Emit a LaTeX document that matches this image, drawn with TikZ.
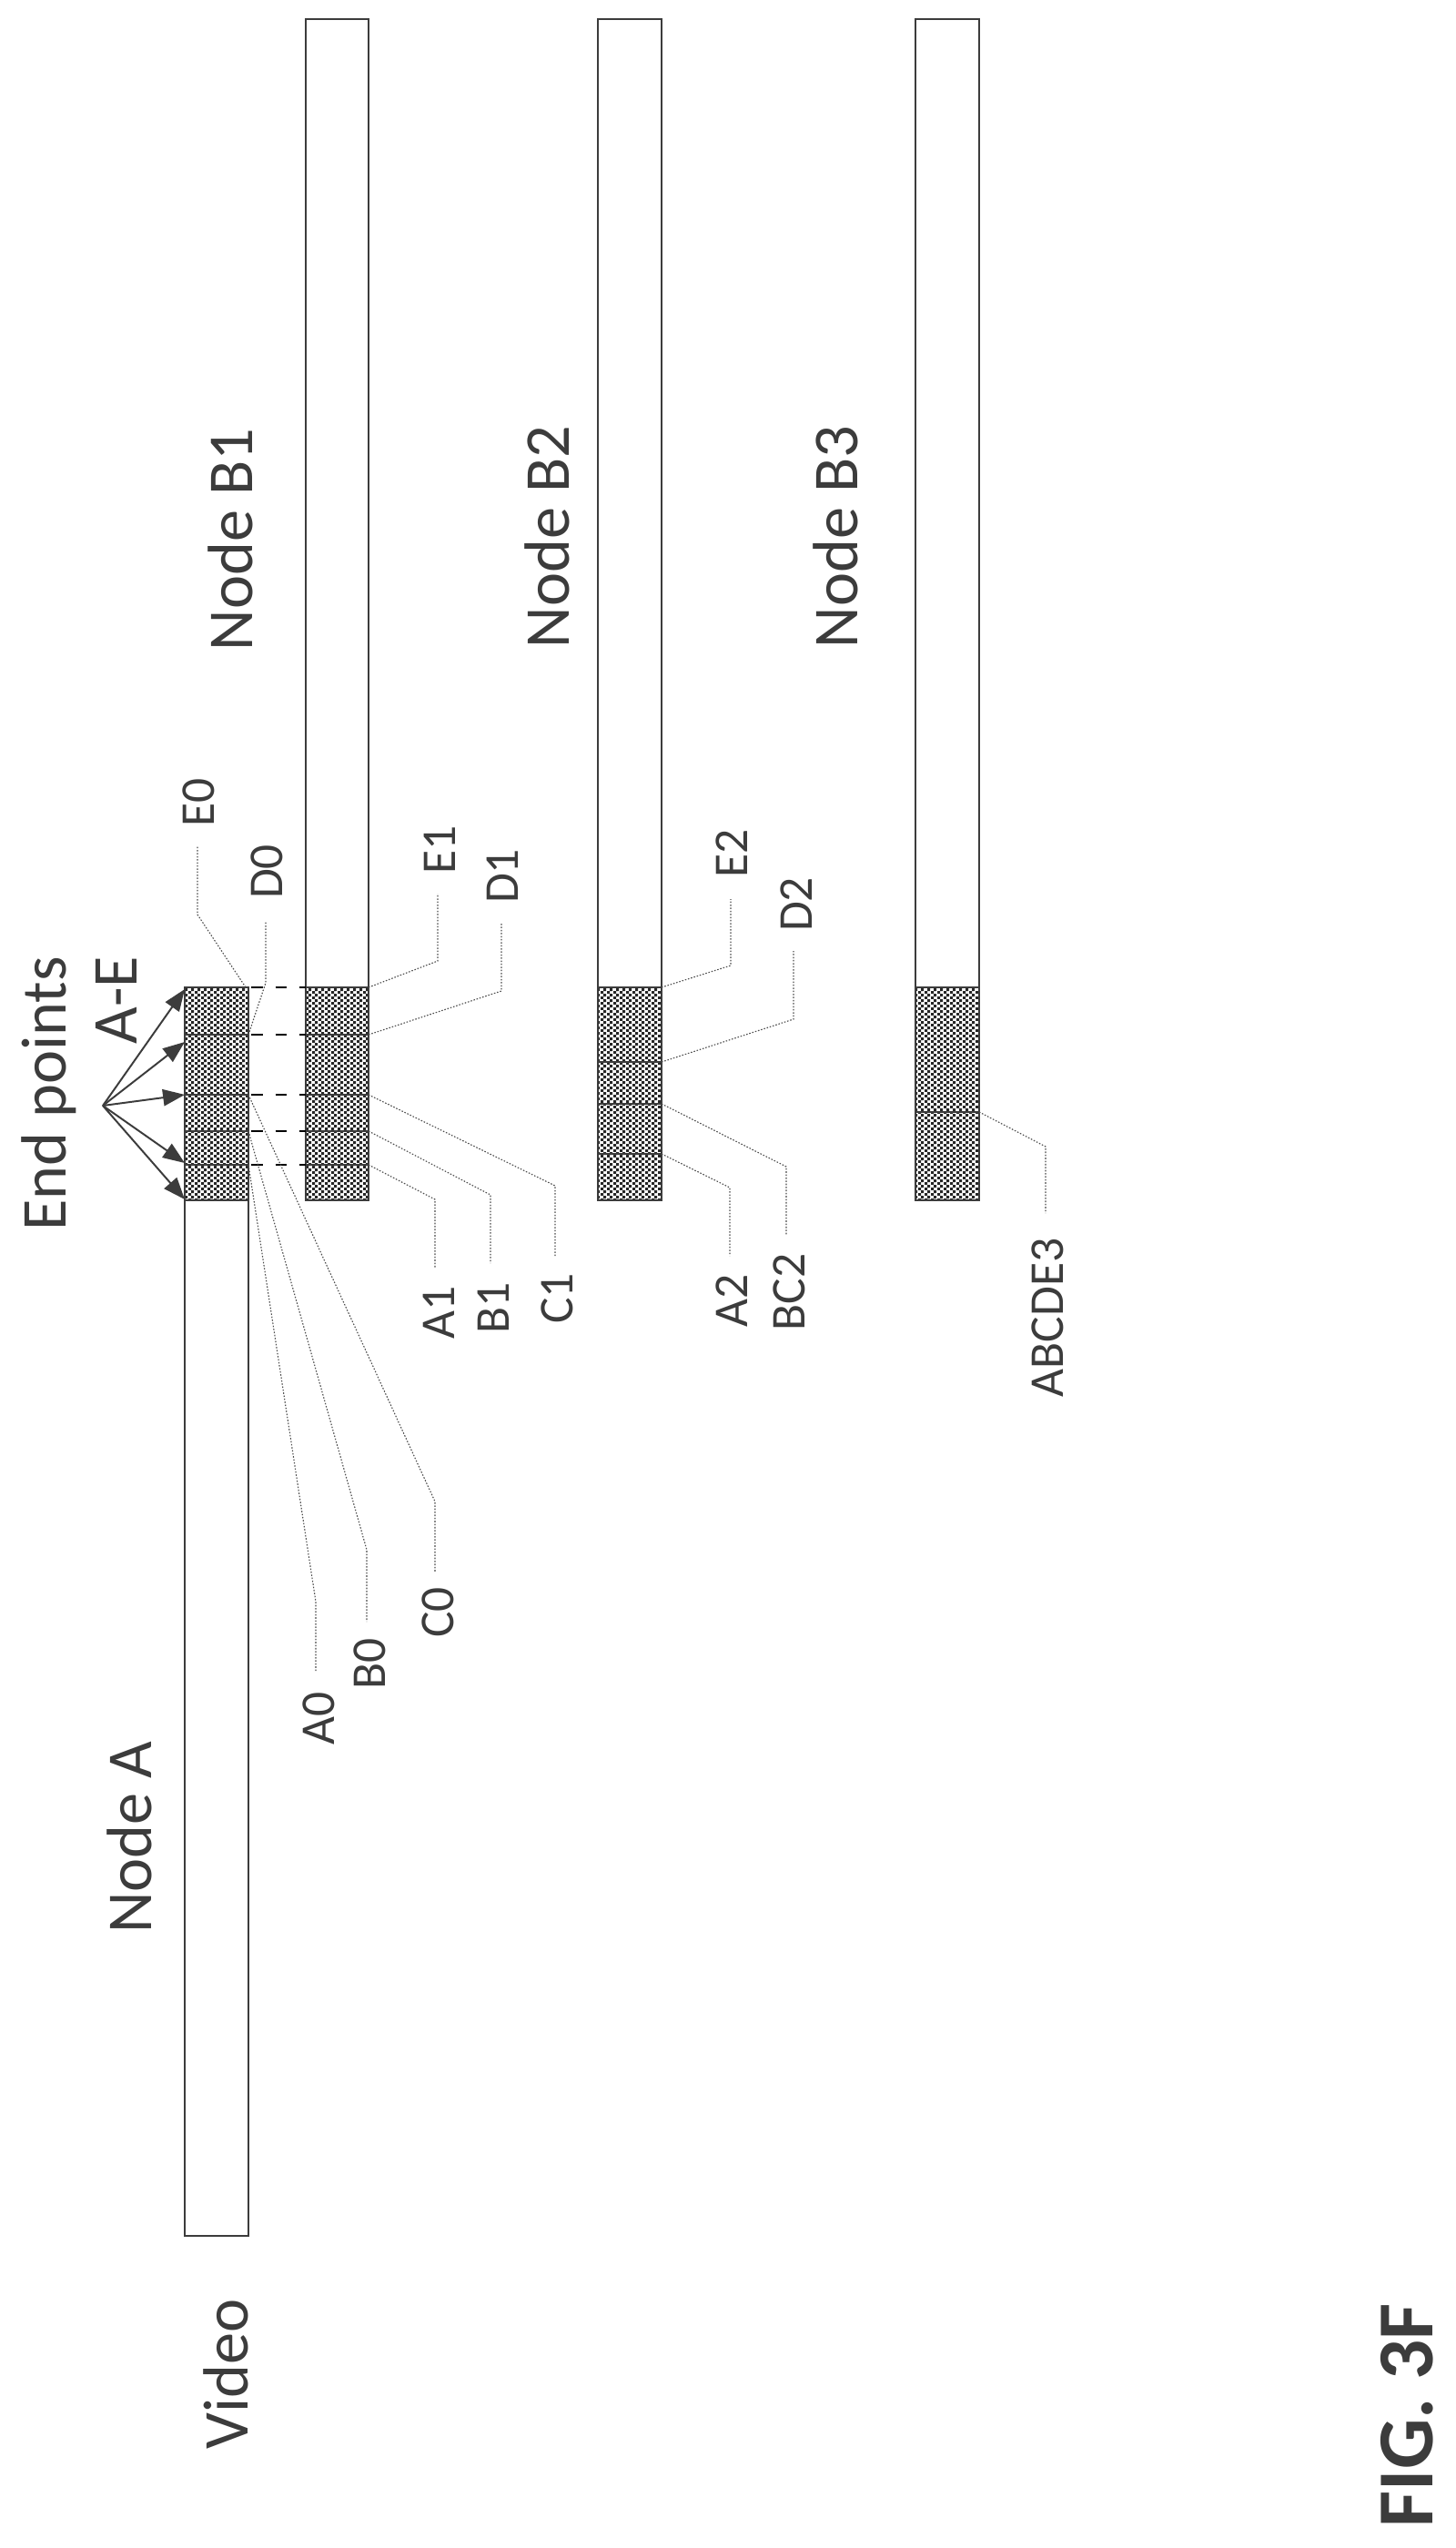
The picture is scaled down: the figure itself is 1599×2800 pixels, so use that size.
\documentclass[tikz,border=0pt]{standalone}
\usepackage{fontspec}
\setmainfont{Carlito}
\usetikzlibrary{arrows.meta,patterns.meta}
\tikzdeclarepattern{name=checker,type=uncolored,bottom left={(0pt,0pt)},top right={(4.6pt,4.6pt)},tile size={(4.6pt,4.6pt)},
  code={\fill (0pt,0pt) rectangle (2.3pt,2.3pt); \fill (2.3pt,2.3pt) rectangle (4.6pt,4.6pt);}}
\definecolor{ink}{HTML}{3C3C3C}
\tikzset{
  bar/.style={draw=ink,line width=1.6pt,fill=white},
  shade/.style={draw=ink,line width=1.6pt,pattern=checker,pattern color=black!85},
  divider/.style={draw=ink,line width=1.2pt},
  leader/.style={draw=black!70,line width=0.8pt,dash pattern=on 1.1pt off 1.3pt},
  link/.style={draw=black,line width=1.4pt,dash pattern=on 9pt off 10pt},
  lab/.style={rotate=90,text=ink,font=\fontsize{38}{40}\selectfont,inner sep=0pt,anchor=center},
  big/.style={rotate=90,text=ink,font=\fontsize{50}{54}\selectfont,inner sep=0pt,anchor=base},
  ptr/.style={draw=ink,line width=1.4pt,-{Triangle[length=17pt,width=13pt]}}
}
\begin{document}
\begin{tikzpicture}[x=0.025cm,y=-0.025cm]
\useasboundingbox (0,0) rectangle (1599,2800);
% bars
\draw[bar] (203,1085) rectangle (273,2457);
\draw[shade] (203,1085) rectangle (273,1319);
\draw[bar] (336,21) rectangle (405,1319);
\draw[shade] (336,1085) rectangle (405,1319);
\draw[bar] (657,21) rectangle (727,1319);
\draw[shade] (657,1085) rectangle (727,1319);
\draw[bar] (1006,21) rectangle (1076,1319);
\draw[shade] (1006,1085) rectangle (1076,1319);
% dividers
\foreach \y in {1137,1203,1243,1280}{
  \draw[divider] (203,\y) -- (273,\y);
  \draw[divider] (336,\y) -- (405,\y);
}
\foreach \y in {1167,1213,1268}{\draw[divider] (657,\y) -- (727,\y);}
\draw[divider] (1006,1222) -- (1076,1222);
% dashed links
\foreach \y in {1085,1137,1203,1243,1280}{\draw[link] (276,\y) -- (336,\y);}
% arrows
\coordinate (src) at (113,1215);
\foreach \y in {1087,1145,1203,1278,1318}{\draw[ptr] (src) -- (203,\y);}
% big texts
\node[big] (video) at (272,2609) {Video};
\node[big] (nodeA) at (166,2019) {Node A};
\node[big] (ep) at (72,1202) {End points};
\node[big] (ae) at (150,1099) {A-E};
\node[big] (nb1) at (277,593) {Node B1};
\node[big] (nb2) at (625,590) {Node B2};
\node[big] (nb3) at (942,590) {Node B3};
\node[rotate=90,anchor=base,inner sep=0pt,text=ink,font=\fontsize{62}{66}\selectfont\bfseries] (fig) at (1574,2654) {FIG. 3F};
% labels
\node[lab] (E0) at (218,882) {E0};
\node[lab] (D0) at (293,958) {D0};
\node[lab] (A0) at (350,1888) {A0};
\node[lab] (B0) at (406,1828) {B0};
\node[lab] (C0) at (481,1772) {C0};
\node[lab] (E1) at (483,934) {E1};
\node[lab] (D1) at (552,963) {D1};
\node[lab] (A1) at (482,1442) {A1};
\node[lab] (B1) at (542,1437) {B1};
\node[lab] (C1) at (612,1427) {C1};
\node[lab] (E2) at (804,938) {E2};
\node[lab] (D2) at (875,994) {D2};
\node[lab] (A2) at (804,1429) {A2};
\node[lab] (BC2) at (867,1420) {BC2};
\node[lab] (ABCDE3) at (1151,1448) {ABCDE3};
% leaders
\draw[leader] (270,1085) -- (217,1005) -- (217,930);
\draw[leader] (273,1137) -- (292,1080) -- (292,1012);
\draw[leader] (273,1280) -- (347,1760) -- (347,1837);
\draw[leader] (273,1243) -- (403,1703) -- (403,1782);
\draw[leader] (273,1203) -- (478,1650) -- (478,1727);
\draw[leader] (405,1085) -- (481,1056) -- (481,982);
\draw[leader] (405,1137) -- (551,1089) -- (551,1015);
\draw[leader] (405,1280) -- (478,1318) -- (478,1393);
\draw[leader] (405,1243) -- (539,1313) -- (539,1388);
\draw[leader] (405,1203) -- (610,1303) -- (610,1380);
\draw[leader] (727,1085) -- (803,1061) -- (803,988);
\draw[leader] (727,1167) -- (872,1120) -- (872,1045);
\draw[leader] (727,1213) -- (864,1282) -- (864,1357);
\draw[leader] (727,1268) -- (802,1305) -- (802,1380);
\draw[leader] (1076,1222) -- (1149,1260) -- (1149,1333);
\end{tikzpicture}
\end{document}
